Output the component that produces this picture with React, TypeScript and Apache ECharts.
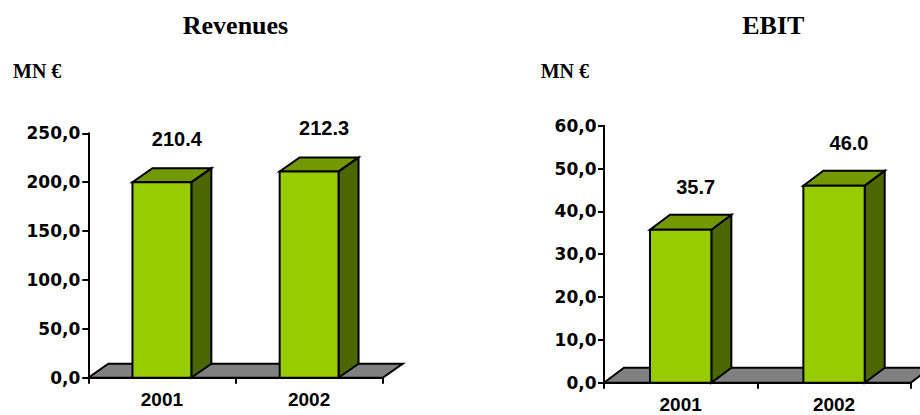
import React, { useEffect, useRef } from "react";
import * as echarts from "echarts";

const categories = ["2001", "2002"];
// bar heights as drawn in the picture
const revenueBarValues = [200.0, 211.0];
const revenueValueLabels = ["210.4", "212.3"];
const ebitBarValues = [35.7, 46.0];
const ebitValueLabels = ["35.7", "46.0"];
const revenueAxis = { min: 0, max: 250, interval: 50 };
const ebitAxis = { min: 0, max: 60, interval: 10 };
const titles = ["Revenues", "EBIT"];
const unitLabel = "MN €";

const FRONT = "#99CC00";
const TOP = "#739900";
const SIDE = "#4C6600";
const FLOOR = "#808080";

function fmtAxis(v: number) {
  return v.toFixed(1).replace(".", ",");
}

function makeBarRender(labels: string[], dx: number, dy: number) {
  return (params: any, api: any) => {
    const idx = api.value(0);
    const val = api.value(1);
    const top = api.coord([idx, val]);
    const base = api.coord([idx, 0]);
    const band = api.size([1, 0])[0];
    const w = band * 0.4;
    const xl = top[0] - w / 2;
    const xr = top[0] + w / 2;
    const yt = top[1];
    const yb = base[1];
    const stroke = { stroke: "#000", lineWidth: 2, lineJoin: "miter" };
    return {
      type: "group",
      children: [
        {
          type: "polygon",
          shape: { points: [[xr, yt], [xr + dx, yt + dy], [xr + dx, yb + dy], [xr, yb]] },
          style: { fill: SIDE, ...stroke },
        },
        {
          type: "polygon",
          shape: { points: [[xl, yt], [xr, yt], [xr + dx, yt + dy], [xl + dx, yt + dy]] },
          style: { fill: TOP, ...stroke },
        },
        {
          type: "rect",
          shape: { x: xl, y: yt, width: w, height: yb - yt },
          style: { fill: FRONT, ...stroke },
        },
        {
          type: "text",
          style: {
            text: labels[idx],
            x: top[0] + 15,
            y: yt - 43,
            align: "center",
            verticalAlign: "middle",
            fontFamily: "Liberation Sans",
            fontWeight: "bold",
            fontSize: 20,
            fill: "#000",
          },
        },
      ],
    };
  };
}

function makeFloorRender(dx: number, dy: number) {
  return (params: any, api: any) => {
    const cs = params.coordSys;
    const x0 = cs.x;
    const x1 = cs.x + cs.width;
    const yb = cs.y + cs.height;
    return {
      type: "polygon",
      shape: { points: [[x0, yb], [x1, yb], [x1 + dx, yb + dy], [x0 + dx, yb + dy]] },
      style: { fill: FLOOR, stroke: "#000", lineWidth: 2 },
    };
  };
}

function xAxisCfg(gridIndex: number) {
  return {
    type: "category",
    gridIndex,
    data: categories,
    boundaryGap: true,
    axisLine: { show: true, lineStyle: { color: "#000", width: 2 } },
    axisTick: { show: true, length: 6, lineStyle: { color: "#000", width: 2 } },
    axisLabel: {
      color: "#000",
      fontFamily: "Liberation Sans",
      fontWeight: "bold",
      fontSize: 19,
      margin: 12.5,
    },
    splitLine: { show: false },
  };
}

function yAxisCfg(gridIndex: number, ax: { min: number; max: number; interval: number }, margin: number) {
  return {
    type: "value",
    gridIndex,
    min: ax.min,
    max: ax.max,
    interval: ax.interval,
    axisLine: { show: true, lineStyle: { color: "#000", width: 2 } },
    axisTick: { show: true, length: 6, lineStyle: { color: "#000", width: 2 } },
    axisLabel: {
      color: "#000",
      fontFamily: "DejaVu Sans",
      fontWeight: "bold",
      fontSize: 17,
      margin,
      formatter: fmtAxis,
    },
    splitLine: { show: false },
  };
}

export default function App() {
  const ref = useRef<HTMLDivElement>(null);
  useEffect(() => {
    if (!ref.current) return;
    const chart = echarts.init(ref.current, undefined, { renderer: "svg" });
    const titleFont = { fontFamily: "Liberation Serif", fontWeight: "bold", fill: "#000" };
    chart.setOption({
      animation: false,
      backgroundColor: "#fff",
      grid: [
        { left: 88.3, top: 133.3, width: 294.4, height: 244.4 },
        { left: 604, top: 125.7, width: 306.7, height: 257 },
      ],
      xAxis: [xAxisCfg(0), xAxisCfg(1)],
      yAxis: [yAxisCfg(0, revenueAxis, 8), yAxisCfg(1, ebitAxis, 7.5)],
      graphic: [
        {
          type: "text",
          x: 235.5,
          y: 25,
          style: { text: titles[0], align: "center", verticalAlign: "middle", fontSize: 26, ...titleFont },
        },
        {
          type: "text",
          x: 773.3,
          y: 25,
          style: { text: titles[1], align: "center", verticalAlign: "middle", fontSize: 26, ...titleFont },
        },
        {
          type: "text",
          x: 13,
          y: 71,
          style: { text: unitLabel, align: "left", verticalAlign: "middle", fontSize: 20, ...titleFont },
        },
        {
          type: "text",
          x: 540.7,
          y: 71,
          style: { text: unitLabel, align: "left", verticalAlign: "middle", fontSize: 20, ...titleFont },
        },
      ],
      series: [
        {
          type: "custom",
          name: "floor-rev",
          xAxisIndex: 0,
          yAxisIndex: 0,
          z: 1,
          clip: false,
          data: [[0, 0]],
          renderItem: makeFloorRender(20, -14),
        },
        {
          type: "custom",
          name: "Revenues",
          xAxisIndex: 0,
          yAxisIndex: 0,
          z: 3,
          clip: false,
          data: revenueBarValues.map((v, i) => [i, v]),
          renderItem: makeBarRender(revenueValueLabels, 20, -14),
        },
        {
          type: "custom",
          name: "floor-ebit",
          xAxisIndex: 1,
          yAxisIndex: 1,
          z: 1,
          clip: false,
          data: [[0, 0]],
          renderItem: makeFloorRender(20, -15),
        },
        {
          type: "custom",
          name: "EBIT",
          xAxisIndex: 1,
          yAxisIndex: 1,
          z: 3,
          clip: false,
          data: ebitBarValues.map((v, i) => [i, v]),
          renderItem: makeBarRender(ebitValueLabels, 20, -15),
        },
      ],
    });
    return () => chart.dispose();
  }, []);
  return (
    <div
      ref={ref}
      style={{ position: "fixed", left: 0, top: 0, width: 920, height: 415 }}
    />
  );
}
